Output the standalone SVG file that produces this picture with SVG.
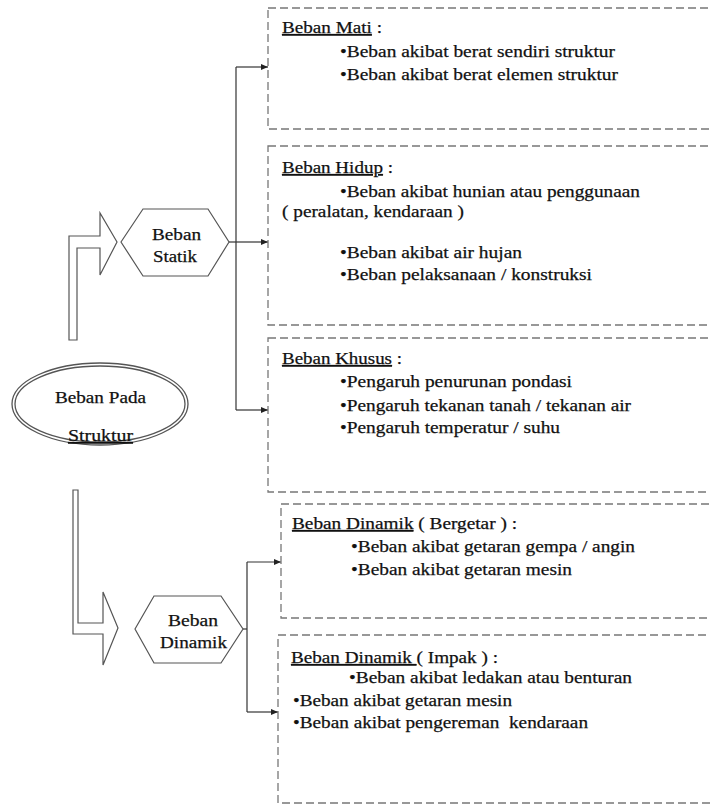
<svg xmlns="http://www.w3.org/2000/svg" width="710" height="805" viewBox="0 0 710 805">
<defs>
<marker id="ah" markerWidth="8" markerHeight="8" refX="7" refY="4" orient="auto" markerUnits="userSpaceOnUse">
<path d="M0,1 L7,4 L0,7 Z" fill="#222"/>
</marker>
<style>
.box{fill:none;stroke:#777;stroke-width:1.3;stroke-dasharray:8 4}
text{font-family:'Liberation Serif','DejaVu Serif',serif;font-size:17px;fill:#111;stroke:#111;stroke-width:0.25}
.c{text-anchor:middle}
.u{text-decoration:underline}
.shape{fill:#fff;stroke:#555;stroke-width:1.2}
.conn{fill:none;stroke:#333;stroke-width:1.2}
</style>
</defs>
<rect width="710" height="805" fill="#fff"/>

<g id="connectors">
<path class="conn" d="M229,242 H236"/>
<path class="conn" d="M236,67 V410"/>
<path class="conn" d="M236,67 H268" marker-end="url(#ah)"/>
<path class="conn" d="M236,242 H268" marker-end="url(#ah)"/>
<path class="conn" d="M236,410 H268" marker-end="url(#ah)"/>
<path class="conn" d="M243,629 H247"/>
<path class="conn" d="M247,562 V712"/>
<path class="conn" d="M247,562 H281" marker-end="url(#ah)"/>
<path class="conn" d="M247,712 H278" marker-end="url(#ah)"/>
<path id="arrow-up" class="shape" d="M69,340 L69,236 L100,236 L100,213 L117,242 L100,275 L100,248 L77,248 L77,340 Z"/>
<path id="arrow-down" class="shape" d="M73,490 L78,490 L78,623 L103,623 L103,592 L118,628 L103,665 L103,634 L73,634 Z"/>
</g>

<g id="node-struktur">
<ellipse cx="100" cy="404" rx="88" ry="41" fill="#fff" stroke="#555" stroke-width="1.3"/>
<ellipse cx="100" cy="404" rx="85" ry="38" fill="none" stroke="#555" stroke-width="1.3"/>
<text class="c" x="100.5" y="403" textLength="91" lengthAdjust="spacingAndGlyphs">Beban Pada</text>
<text class="c u" x="100.5" y="441" textLength="65" lengthAdjust="spacingAndGlyphs">Struktur</text>
</g>

<g id="node-statik">
<polygon class="shape" points="121,242 143,209 208,209 229,242 208,276 143,276"/>
<text class="c" x="176.5" y="240" textLength="49" lengthAdjust="spacingAndGlyphs">Beban</text>
<text class="c" x="175" y="262" textLength="44" lengthAdjust="spacingAndGlyphs">Statik</text>
</g>

<g id="node-dinamik">
<polygon class="shape" points="135,629 154,596 221,596 243,629 221,663 154,663"/>
<text class="c" x="193" y="626" textLength="50" lengthAdjust="spacingAndGlyphs">Beban</text>
<text class="c" x="193.5" y="648" textLength="67" lengthAdjust="spacingAndGlyphs">Dinamik</text>
</g>

<g id="box-mati">
<rect class="box" x="268" y="8" width="460" height="121"/>
<text x="282" y="33" textLength="100" lengthAdjust="spacingAndGlyphs"><tspan class="u">Beban Mati</tspan> :</text>
<text x="340" y="57" textLength="275" lengthAdjust="spacingAndGlyphs">•Beban akibat berat sendiri struktur</text>
<text x="340" y="80" textLength="278" lengthAdjust="spacingAndGlyphs">•Beban akibat berat elemen struktur</text>
</g>

<g id="box-hidup">
<rect class="box" x="268" y="146" width="460" height="179"/>
<text x="282" y="173" textLength="111" lengthAdjust="spacingAndGlyphs"><tspan class="u">Beban Hidup</tspan> :</text>
<text x="340" y="197" textLength="300" lengthAdjust="spacingAndGlyphs">•Beban akibat hunian atau penggunaan</text>
<text x="282" y="217" textLength="182" lengthAdjust="spacingAndGlyphs">( peralatan, kendaraan )</text>
<text x="340" y="258" textLength="182" lengthAdjust="spacingAndGlyphs">•Beban akibat air hujan</text>
<text x="340" y="280" textLength="252" lengthAdjust="spacingAndGlyphs">•Beban pelaksanaan / konstruksi</text>
</g>

<g id="box-khusus">
<rect class="box" x="268" y="338" width="460" height="154"/>
<text x="282" y="364" textLength="120" lengthAdjust="spacingAndGlyphs"><tspan class="u">Beban Khusus</tspan> :</text>
<text x="340" y="387" textLength="232" lengthAdjust="spacingAndGlyphs">•Pengaruh penurunan pondasi</text>
<text x="340" y="411" textLength="291" lengthAdjust="spacingAndGlyphs">•Pengaruh tekanan tanah / tekanan air</text>
<text x="340" y="433" textLength="220" lengthAdjust="spacingAndGlyphs">•Pengaruh temperatur / suhu</text>
</g>

<g id="box-bergetar">
<rect class="box" x="281" y="504" width="450" height="114"/>
<text x="292" y="529" textLength="225" lengthAdjust="spacingAndGlyphs"><tspan class="u">Beban Dinamik</tspan> ( Bergetar ) :</text>
<text x="351" y="552" textLength="284" lengthAdjust="spacingAndGlyphs">•Beban akibat getaran gempa / angin</text>
<text x="351" y="575" textLength="221" lengthAdjust="spacingAndGlyphs">•Beban akibat getaran mesin</text>
</g>

<g id="box-impak">
<rect class="box" x="278" y="635" width="450" height="168"/>
<text x="291" y="663" textLength="207" lengthAdjust="spacingAndGlyphs"><tspan class="u">Beban Dinamik </tspan>( Impak ) :</text>
<text x="349" y="683" textLength="283" lengthAdjust="spacingAndGlyphs">•Beban akibat ledakan atau benturan</text>
<text x="293" y="706" textLength="219" lengthAdjust="spacingAndGlyphs">•Beban akibat getaran mesin</text>
<text x="293" y="728" textLength="295" lengthAdjust="spacingAndGlyphs" xml:space="preserve">•Beban akibat pengereman  kendaraan</text>
</g>
</svg>
